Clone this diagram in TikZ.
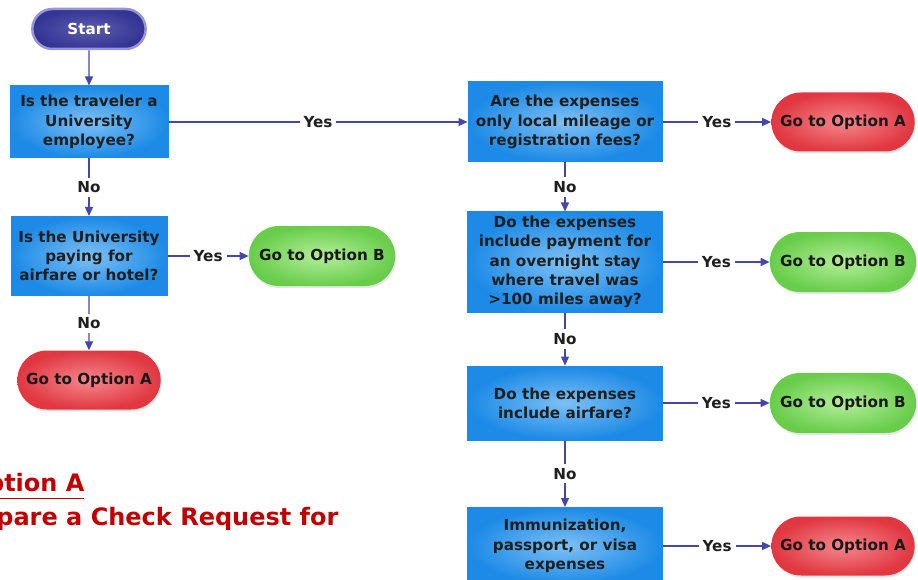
\documentclass[tikz,border=0pt]{standalone}
\usepackage{fontspec}
\setmainfont{DejaVu Sans}
\usetikzlibrary{shapes.misc,arrows.meta,shadows,positioning}
\definecolor{flowline}{RGB}{70,70,170}
\definecolor{boxblue}{RGB}{28,138,230}
\definecolor{boxlight}{RGB}{125,192,245}
\definecolor{startblue}{RGB}{52,52,150}
\definecolor{startrim}{RGB}{150,150,215}
\definecolor{optred}{RGB}{225,55,65}
\definecolor{optredlight}{RGB}{245,135,140}
\definecolor{optgreen}{RGB}{105,205,75}
\definecolor{optgreenlight}{RGB}{180,238,155}
\definecolor{notered}{RGB}{192,0,0}
\newcommand{\flowfont}{\fontsize{15.2}{19.3}\selectfont\bfseries}
\newcommand{\notefont}{\fontsize{24}{28}\selectfont\bfseries}

\tikzset{
  question/.style={rectangle, draw=boxblue, line width=1pt,
    inner color=boxlight, outer color=boxblue, align=center,
    font=\flowfont, text=black!88},
  pill/.style={rounded rectangle, font=\flowfont, text=black!90,
    drop shadow={opacity=0.2, shadow xshift=1pt, shadow yshift=-2pt}},
  optA/.style={pill, inner color=optredlight, outer color=optred,
    minimum width=150, minimum height=59},
  optB/.style={pill, inner color=optgreenlight, outer color=optgreen,
    minimum width=153, minimum height=60},
  startpill/.style={rounded rectangle, draw=startrim, line width=2.5pt,
    inner color=startblue!80!white, outer color=startblue,
    font=\flowfont, text=white, minimum width=120, minimum height=40},
  flow/.style={draw=flowline, line width=1.4pt,
    -{Triangle[length=9pt,width=8pt]}},
  tag/.style={midway, fill=white, inner sep=4pt, font=\flowfont,
    text=black!88},
  notetext/.style={font=\notefont, text=notered}
}

\begin{document}
\begin{tikzpicture}[x=1pt, y=-1pt]
  \clip (0,0) rectangle (918,580);

  % left column
  \node[startpill] (start) at (89,29) {Start};
  \node[question, minimum width=158, minimum height=72] (traveler) at (89,122)
    {Is the traveler a\\University\\employee?};
  \node[question, minimum width=156, minimum height=79] (paying) at (89,256)
    {Is the University\\paying for\\airfare or hotel?};
  \node[optB] (optBpay) at (322,256) {Go to Option B};
  \node[optA] (optAleft) at (89,380) {Go to Option A};

  % right column
  \node[question, minimum width=194, minimum height=80] (local) at (565,122)
    {Are the expenses\\only local mileage or\\registration fees?};
  \node[optA] (optAlocal) at (843,122) {Go to Option A};
  \node[question, minimum width=195, minimum height=100] (overnight) at (565,262)
    {Do the expenses\\include payment for\\an overnight stay\\where travel was\\>100 miles away?};
  \node[optB] (optBnight) at (843,262) {Go to Option B};
  \node[question, minimum width=195, minimum height=74] (airfare) at (565,403)
    {Do the expenses\\include airfare?};
  \node[optB] (optBair) at (843,403) {Go to Option B};
  \node[question, minimum width=195, minimum height=77] (visa) at (565,546)
    {Immunization,\\passport, or visa\\expenses};
  \node[optA] (optAvisa) at (843,546) {Go to Option A};

  % connectors
  \draw[flow] (start) -- (traveler);
  \draw[flow] (traveler) -- node[tag] {Yes} (local);
  \draw[flow] (traveler) -- node[tag] {No} (paying);
  \draw[flow] (paying) -- node[tag] {Yes} (optBpay);
  \draw[flow] (paying) -- node[tag] {No} (optAleft);
  \draw[flow] (local) -- node[tag] {Yes} (optAlocal);
  \draw[flow] (local) -- node[tag] {No} (overnight);
  \draw[flow] (overnight) -- node[tag] {Yes} (optBnight);
  \draw[flow] (overnight) -- node[tag] {No} (airfare);
  \draw[flow] (airfare) -- node[tag] {Yes} (optBair);
  \draw[flow] (airfare) -- node[tag] {No} (visa);
  \draw[flow] (visa) -- node[tag] {Yes} (optAvisa);

  % note below
  \node[notetext, anchor=east] (notehead) at (88,486) {\underline{Option A}};
  \node[notetext, anchor=east] (notebody) at (342,519) {Prepare a Check Request for};
\end{tikzpicture}
\end{document}
